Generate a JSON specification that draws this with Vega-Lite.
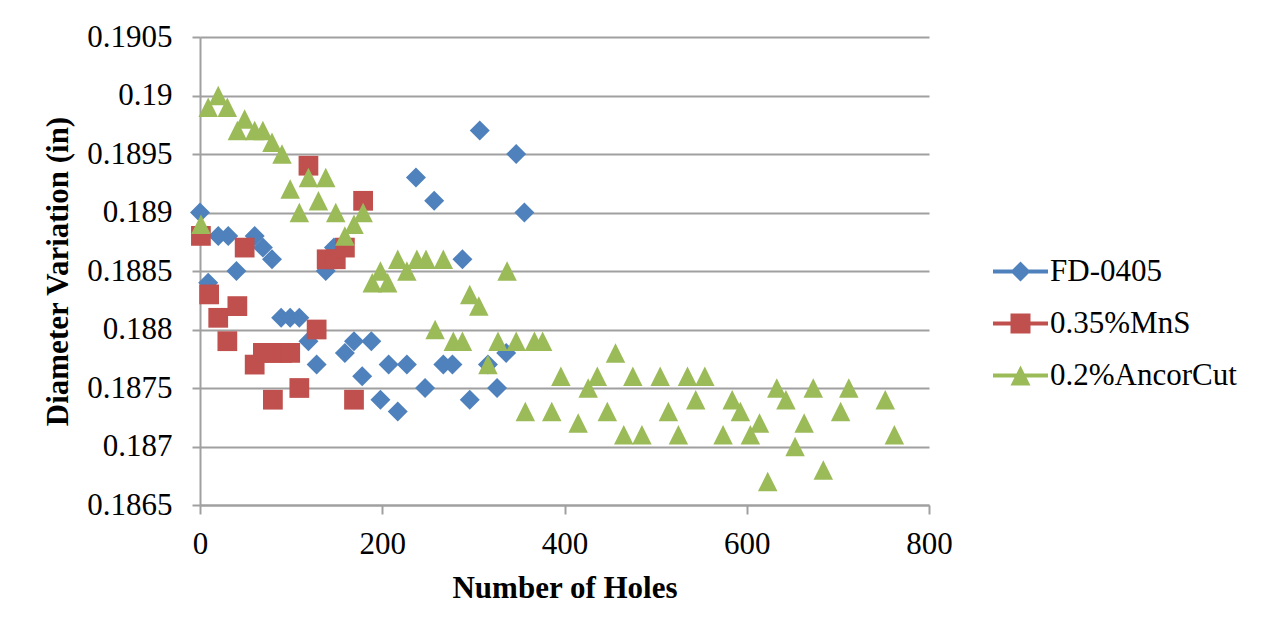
{
  "$schema": "https://vega.github.io/schema/vega-lite/v6.json",
  "width": 729,
  "height": 468,
  "autosize": {"type": "none"},
  "padding": {"left": 200, "top": 37, "right": 342, "bottom": 128},
  "background": "white",
  "config": {
    "font": "Liberation Serif",
    "axis": {"labelFont": "Liberation Serif", "titleFont": "Liberation Serif"},
    "legend": {"labelFont": "Liberation Serif", "titleFont": "Liberation Serif"},
    "view": {"stroke": null}
  },
  "data": {
    "values": [
      {"series": "FD-0405", "holes": 0, "diameter": 0.1890},
      {"series": "FD-0405", "holes": 9, "diameter": 0.1884},
      {"series": "FD-0405", "holes": 20, "diameter": 0.1888},
      {"series": "FD-0405", "holes": 31, "diameter": 0.1888},
      {"series": "FD-0405", "holes": 40, "diameter": 0.1885},
      {"series": "FD-0405", "holes": 60, "diameter": 0.1888},
      {"series": "FD-0405", "holes": 69, "diameter": 0.1887},
      {"series": "FD-0405", "holes": 79, "diameter": 0.1886},
      {"series": "FD-0405", "holes": 89, "diameter": 0.1881},
      {"series": "FD-0405", "holes": 99, "diameter": 0.1881},
      {"series": "FD-0405", "holes": 109, "diameter": 0.1881},
      {"series": "FD-0405", "holes": 119, "diameter": 0.1879},
      {"series": "FD-0405", "holes": 128, "diameter": 0.1877},
      {"series": "FD-0405", "holes": 138, "diameter": 0.1885},
      {"series": "FD-0405", "holes": 147, "diameter": 0.1887},
      {"series": "FD-0405", "holes": 159, "diameter": 0.1878},
      {"series": "FD-0405", "holes": 169, "diameter": 0.1879},
      {"series": "FD-0405", "holes": 178, "diameter": 0.1876},
      {"series": "FD-0405", "holes": 188, "diameter": 0.1879},
      {"series": "FD-0405", "holes": 198, "diameter": 0.1874},
      {"series": "FD-0405", "holes": 207, "diameter": 0.1877},
      {"series": "FD-0405", "holes": 217, "diameter": 0.1873},
      {"series": "FD-0405", "holes": 227, "diameter": 0.1877},
      {"series": "FD-0405", "holes": 237, "diameter": 0.1893},
      {"series": "FD-0405", "holes": 247, "diameter": 0.1875},
      {"series": "FD-0405", "holes": 257, "diameter": 0.1891},
      {"series": "FD-0405", "holes": 267, "diameter": 0.1877},
      {"series": "FD-0405", "holes": 277, "diameter": 0.1877},
      {"series": "FD-0405", "holes": 288, "diameter": 0.1886},
      {"series": "FD-0405", "holes": 296, "diameter": 0.1874},
      {"series": "FD-0405", "holes": 307, "diameter": 0.1897},
      {"series": "FD-0405", "holes": 316, "diameter": 0.1877},
      {"series": "FD-0405", "holes": 326, "diameter": 0.1875},
      {"series": "FD-0405", "holes": 336, "diameter": 0.1878},
      {"series": "FD-0405", "holes": 347, "diameter": 0.1895},
      {"series": "FD-0405", "holes": 356, "diameter": 0.1890},
      {"series": "0.35%MnS", "holes": 1, "diameter": 0.1888},
      {"series": "0.35%MnS", "holes": 10, "diameter": 0.1883},
      {"series": "0.35%MnS", "holes": 20, "diameter": 0.1881},
      {"series": "0.35%MnS", "holes": 30, "diameter": 0.1879},
      {"series": "0.35%MnS", "holes": 41, "diameter": 0.1882},
      {"series": "0.35%MnS", "holes": 49, "diameter": 0.1887},
      {"series": "0.35%MnS", "holes": 60, "diameter": 0.1877},
      {"series": "0.35%MnS", "holes": 69, "diameter": 0.1878},
      {"series": "0.35%MnS", "holes": 80, "diameter": 0.1878},
      {"series": "0.35%MnS", "holes": 80, "diameter": 0.1874},
      {"series": "0.35%MnS", "holes": 90, "diameter": 0.1878},
      {"series": "0.35%MnS", "holes": 99, "diameter": 0.1878},
      {"series": "0.35%MnS", "holes": 109, "diameter": 0.1875},
      {"series": "0.35%MnS", "holes": 119, "diameter": 0.1894},
      {"series": "0.35%MnS", "holes": 128, "diameter": 0.1880},
      {"series": "0.35%MnS", "holes": 139, "diameter": 0.1886},
      {"series": "0.35%MnS", "holes": 149, "diameter": 0.1886},
      {"series": "0.35%MnS", "holes": 159, "diameter": 0.1887},
      {"series": "0.35%MnS", "holes": 169, "diameter": 0.1874},
      {"series": "0.35%MnS", "holes": 179, "diameter": 0.1891},
      {"series": "0.2%AncorCut", "holes": 1, "diameter": 0.1889},
      {"series": "0.2%AncorCut", "holes": 9, "diameter": 0.1899},
      {"series": "0.2%AncorCut", "holes": 20, "diameter": 0.1900},
      {"series": "0.2%AncorCut", "holes": 30, "diameter": 0.1899},
      {"series": "0.2%AncorCut", "holes": 41, "diameter": 0.1897},
      {"series": "0.2%AncorCut", "holes": 49, "diameter": 0.1898},
      {"series": "0.2%AncorCut", "holes": 60, "diameter": 0.1897},
      {"series": "0.2%AncorCut", "holes": 69, "diameter": 0.1897},
      {"series": "0.2%AncorCut", "holes": 79, "diameter": 0.1896},
      {"series": "0.2%AncorCut", "holes": 90, "diameter": 0.1895},
      {"series": "0.2%AncorCut", "holes": 99, "diameter": 0.1892},
      {"series": "0.2%AncorCut", "holes": 109, "diameter": 0.1890},
      {"series": "0.2%AncorCut", "holes": 119, "diameter": 0.1893},
      {"series": "0.2%AncorCut", "holes": 130, "diameter": 0.1891},
      {"series": "0.2%AncorCut", "holes": 138, "diameter": 0.1893},
      {"series": "0.2%AncorCut", "holes": 149, "diameter": 0.1890},
      {"series": "0.2%AncorCut", "holes": 159, "diameter": 0.1888},
      {"series": "0.2%AncorCut", "holes": 169, "diameter": 0.1889},
      {"series": "0.2%AncorCut", "holes": 179, "diameter": 0.1890},
      {"series": "0.2%AncorCut", "holes": 189, "diameter": 0.1884},
      {"series": "0.2%AncorCut", "holes": 198, "diameter": 0.1885},
      {"series": "0.2%AncorCut", "holes": 206, "diameter": 0.1884},
      {"series": "0.2%AncorCut", "holes": 217, "diameter": 0.1886},
      {"series": "0.2%AncorCut", "holes": 227, "diameter": 0.1885},
      {"series": "0.2%AncorCut", "holes": 238, "diameter": 0.1886},
      {"series": "0.2%AncorCut", "holes": 248, "diameter": 0.1886},
      {"series": "0.2%AncorCut", "holes": 258, "diameter": 0.1880},
      {"series": "0.2%AncorCut", "holes": 267, "diameter": 0.1886},
      {"series": "0.2%AncorCut", "holes": 278, "diameter": 0.1879},
      {"series": "0.2%AncorCut", "holes": 288, "diameter": 0.1879},
      {"series": "0.2%AncorCut", "holes": 296, "diameter": 0.1883},
      {"series": "0.2%AncorCut", "holes": 306, "diameter": 0.1882},
      {"series": "0.2%AncorCut", "holes": 316, "diameter": 0.1877},
      {"series": "0.2%AncorCut", "holes": 327, "diameter": 0.1879},
      {"series": "0.2%AncorCut", "holes": 337, "diameter": 0.1885},
      {"series": "0.2%AncorCut", "holes": 347, "diameter": 0.1879},
      {"series": "0.2%AncorCut", "holes": 357, "diameter": 0.1873},
      {"series": "0.2%AncorCut", "holes": 367, "diameter": 0.1879},
      {"series": "0.2%AncorCut", "holes": 376, "diameter": 0.1879},
      {"series": "0.2%AncorCut", "holes": 386, "diameter": 0.1873},
      {"series": "0.2%AncorCut", "holes": 396, "diameter": 0.1876},
      {"series": "0.2%AncorCut", "holes": 415, "diameter": 0.1872},
      {"series": "0.2%AncorCut", "holes": 426, "diameter": 0.1875},
      {"series": "0.2%AncorCut", "holes": 436, "diameter": 0.1876},
      {"series": "0.2%AncorCut", "holes": 447, "diameter": 0.1873},
      {"series": "0.2%AncorCut", "holes": 456, "diameter": 0.1878},
      {"series": "0.2%AncorCut", "holes": 465, "diameter": 0.1871},
      {"series": "0.2%AncorCut", "holes": 475, "diameter": 0.1876},
      {"series": "0.2%AncorCut", "holes": 485, "diameter": 0.1871},
      {"series": "0.2%AncorCut", "holes": 505, "diameter": 0.1876},
      {"series": "0.2%AncorCut", "holes": 514, "diameter": 0.1873},
      {"series": "0.2%AncorCut", "holes": 525, "diameter": 0.1871},
      {"series": "0.2%AncorCut", "holes": 535, "diameter": 0.1876},
      {"series": "0.2%AncorCut", "holes": 544, "diameter": 0.1874},
      {"series": "0.2%AncorCut", "holes": 554, "diameter": 0.1876},
      {"series": "0.2%AncorCut", "holes": 574, "diameter": 0.1871},
      {"series": "0.2%AncorCut", "holes": 584, "diameter": 0.1874},
      {"series": "0.2%AncorCut", "holes": 593, "diameter": 0.1873},
      {"series": "0.2%AncorCut", "holes": 604, "diameter": 0.1871},
      {"series": "0.2%AncorCut", "holes": 614, "diameter": 0.1872},
      {"series": "0.2%AncorCut", "holes": 623, "diameter": 0.1867},
      {"series": "0.2%AncorCut", "holes": 633, "diameter": 0.1875},
      {"series": "0.2%AncorCut", "holes": 643, "diameter": 0.1874},
      {"series": "0.2%AncorCut", "holes": 653, "diameter": 0.1870},
      {"series": "0.2%AncorCut", "holes": 663, "diameter": 0.1872},
      {"series": "0.2%AncorCut", "holes": 673, "diameter": 0.1875},
      {"series": "0.2%AncorCut", "holes": 684, "diameter": 0.1868},
      {"series": "0.2%AncorCut", "holes": 703, "diameter": 0.1873},
      {"series": "0.2%AncorCut", "holes": 712, "diameter": 0.1875},
      {"series": "0.2%AncorCut", "holes": 752, "diameter": 0.1874},
      {"series": "0.2%AncorCut", "holes": 762, "diameter": 0.1871}
    ]
  },
  "encoding": {
    "x": {
      "field": "holes",
      "type": "quantitative",
      "scale": {"domain": [0, 800], "nice": false, "zero": false},
      "axis": {
        "title": "Number of Holes",
        "values": [0, 200, 400, 600, 800],
        "grid": false,
        "domainColor": "#a0a0a0",
        "domainWidth": 2,
        "tickColor": "#a0a0a0",
        "tickWidth": 2,
        "tickSize": 9,
        "labelFont": "Liberation Serif",
        "labelFontSize": 31,
        "labelColor": "black",
        "labelBaseline": "alphabetic",
        "labelPadding": 39,
        "labelFlush": false,
        "titleFont": "Liberation Serif",
        "titleFontSize": 31,
        "titleFontWeight": "bold",
        "titleColor": "black",
        "titleBaseline": "alphabetic",
        "titleY": 92
      }
    },
    "y": {
      "field": "diameter",
      "type": "quantitative",
      "scale": {"domain": [0.1865, 0.1905], "nice": false, "zero": false},
      "axis": {
        "title": "Diameter Variation (in)",
        "values": [0.1865, 0.187, 0.1875, 0.188, 0.1885, 0.189, 0.1895, 0.19, 0.1905],
        "format": ".4~f",
        "grid": true,
        "gridColor": "#a0a0a0",
        "gridWidth": 2,
        "domainColor": "#a0a0a0",
        "domainWidth": 2,
        "tickColor": "#a0a0a0",
        "tickWidth": 2,
        "tickSize": 8,
        "labelFont": "Liberation Serif",
        "labelFontSize": 31,
        "labelColor": "black",
        "labelPadding": 20,
        "labelFlush": false,
        "titleFont": "Liberation Serif",
        "titleFontSize": 31,
        "titleFontWeight": "bold",
        "titleColor": "black",
        "titleBaseline": "alphabetic",
        "titleX": -133,
        "titleY": 234
      }
    }
  },
  "layer": [
    {
      "mark": {"type": "point", "filled": true, "opacity": 1, "strokeWidth": 0},
      "encoding": {
        "color": {
          "field": "series",
          "type": "nominal",
          "scale": {
            "domain": ["FD-0405", "0.35%MnS", "0.2%AncorCut"],
            "range": ["#4F81BD", "#C0504D", "#9BBB59"]
          },
          "legend": null
        },
        "shape": {
          "field": "series",
          "type": "nominal",
          "scale": {
            "domain": ["FD-0405", "0.35%MnS", "0.2%AncorCut"],
            "range": ["diamond", "square", "M0,-1L1,1L-1,1Z"]
          },
          "legend": null
        },
        "size": {
          "field": "series",
          "type": "nominal",
          "scale": {
            "domain": ["FD-0405", "0.35%MnS", "0.2%AncorCut"],
            "range": [400, 380, 400]
          },
          "legend": null
        }
      }
    },
    {
      "transform": [{"filter": "datum.holes < 0"}],
      "mark": {"type": "point", "filled": true, "opacity": 1, "strokeWidth": 0},
      "encoding": {
        "color": {
          "field": "series",
          "type": "nominal",
          "scale": {
            "domain": ["FD-0405", "0.35%MnS", "0.2%AncorCut"],
            "range": ["#4F81BD", "#C0504D", "#9BBB59"]
          },
          "legend": {
            "title": null,
            "orient": "none",
            "legendX": 805,
            "legendY": 219,
            "labelFont": "Liberation Serif",
            "labelFontSize": 31,
            "labelColor": "black",
            "labelLimit": 0,
            "labelOffset": 14,
            "rowPadding": 20,
            "symbolSize": 400,
            "symbolStrokeWidth": 0,
            "symbolOpacity": 1
          }
        },
        "shape": {
          "field": "series",
          "type": "nominal",
          "scale": {
            "domain": ["FD-0405", "0.35%MnS", "0.2%AncorCut"],
            "range": [
              "M-2.75,-0.2H2.75V0.2H-2.75Z M0,-1L1,0L0,1L-1,0Z",
              "M-2.75,-0.2H2.75V0.2H-2.75Z M-1,-1H1V1H-1Z",
              "M-2.75,-0.2H2.75V0.2H-2.75Z M0,-1L1,1L-1,1Z"
            ]
          },
          "legend": {
            "title": null,
            "orient": "none",
            "legendX": 805,
            "legendY": 219,
            "labelFont": "Liberation Serif",
            "labelFontSize": 31,
            "labelColor": "black",
            "labelLimit": 0,
            "labelOffset": 14,
            "rowPadding": 20,
            "symbolSize": 400,
            "symbolStrokeWidth": 0,
            "symbolOpacity": 1
          }
        }
      }
    }
  ],
  "resolve": {"scale": {"color": "independent", "shape": "independent", "size": "independent"}}
}
